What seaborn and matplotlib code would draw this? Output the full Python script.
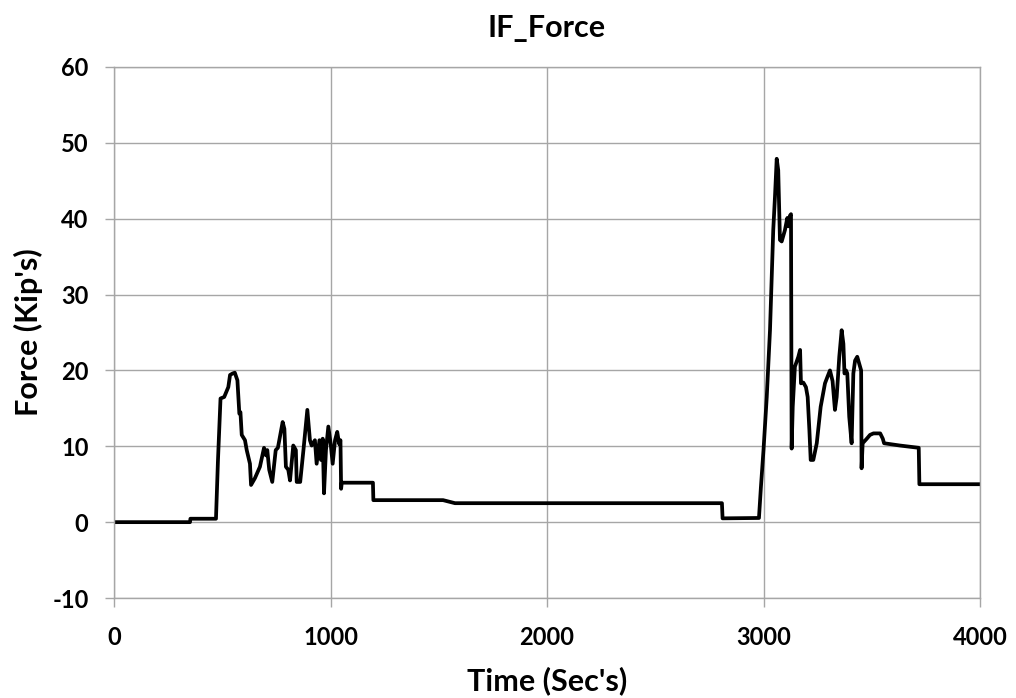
import matplotlib
matplotlib.use("Agg")
import matplotlib.pyplot as plt
import seaborn as sns
import pandas as pd

title = "IF_Force"
x_label = "Time (Sec's)"
y_label = "Force (Kip's)"
x_ticks = [0, 1000, 2000, 3000, 4000]
y_ticks = [-10, 0, 10, 20, 30, 40, 50, 60]

time_s = [0, 351, 353, 471, 480, 492, 509, 528, 536, 548, 558, 570, 579, 584, 590, 605,
          613, 628, 633, 651, 674, 693, 702, 708, 717, 731, 747, 757, 779, 787, 794, 805,
          813, 828, 840, 844, 860, 875, 893, 905, 913, 928, 936, 949, 956, 964, 970, 979,
          990, 1001, 1010, 1021, 1031, 1040, 1046, 1049, 1052, 1196, 1198, 1520, 1575,
          2808, 2811, 2979, 2988, 3000, 3015, 3030, 3045, 3053, 3061, 3068, 3076, 3084,
          3099, 3110, 3116, 3122, 3127, 3130, 3135, 3145, 3161, 3169, 3173, 3184, 3196,
          3204, 3212, 3218, 3230, 3246, 3264, 3284, 3296, 3307, 3319, 3330, 3338, 3350,
          3361, 3369, 3374, 3381, 3387, 3396, 3407, 3415, 3423, 3433, 3442, 3451, 3453,
          3458, 3477, 3492, 3508, 3539, 3551, 3557, 3630, 3717, 3720, 4000]
force_kips = [0.0, 0.0, 0.45, 0.45, 8.0, 16.3, 16.5, 17.8, 19.4, 19.6, 19.7, 18.7, 14.3,
              14.5, 11.5, 10.8, 9.5, 7.7, 4.9, 5.8, 7.3, 9.8, 8.8, 9.5, 6.9, 5.3, 9.5,
              9.8, 13.2, 12.3, 7.3, 6.9, 5.5, 10.1, 9.5, 5.3, 5.3, 9.5, 14.8, 10.8, 10.1,
              10.8, 7.7, 10.8, 8.2, 11.0, 3.8, 9.5, 12.6, 10.3, 7.7, 10.8, 11.9, 10.3,
              10.8, 4.4, 5.2, 5.2, 2.9, 2.9, 2.5, 2.5, 0.5, 0.55, 4.6, 9.5, 16.5, 25.3,
              38.5, 42.9, 47.9, 46.4, 37.2, 37.0, 38.5, 40.1, 39.0, 40.4, 40.6, 9.7, 15.2,
              20.5, 21.8, 22.7, 18.3, 18.4, 17.8, 16.5, 12.1, 8.2, 8.2, 10.4, 15.2, 18.3,
              19.2, 20.0, 18.6, 14.8, 16.5, 21.8, 25.3, 23.5, 19.6, 20.0, 19.6, 13.9, 10.4,
              19.6, 21.3, 21.8, 20.9, 20.0, 7.1, 10.4, 11.0, 11.5, 11.7, 11.7, 11.0, 10.4,
              10.1, 9.8, 5.0, 5.0]

df = pd.DataFrame({"time": time_s, "force": force_kips})

sns.set_theme(style="white")
plt.rcParams["font.family"] = ["Lato", "DejaVu Sans"]
plt.rcParams["font.weight"] = "bold"
plt.rcParams["text.color"] = "black"

W, H = 1016, 698
L, R, T, B = 114, 980, 67, 598
fig = plt.figure(figsize=(W / 100, H / 100), dpi=100)
ax = fig.add_axes([L / W, 1 - B / H, (R - L) / W, (B - T) / H])

sns.lineplot(data=df, x="time", y="force", ax=ax, sort=False, estimator=None,
             color="black", linewidth=2.7)

ax.set_xlim(0, 4000)
ax.set_ylim(-10, 60)
ax.set_xticks(x_ticks)
ax.set_yticks(y_ticks)
ax.set_yticklabels([str(v) for v in y_ticks])
ax.grid(True, color="#a6a6a6", linewidth=1.0)
for s in ax.spines.values():
    s.set_color("#a6a6a6")
    s.set_linewidth(1.0)
ax.tick_params(axis="both", which="both", length=6.3, width=1.0, color="#a6a6a6",
               direction="out", left=True, bottom=True, labelsize=17,
               labelcolor="black")
ax.tick_params(axis="y", pad=12)
ax.tick_params(axis="x", pad=14)
for lab in ax.get_xticklabels() + ax.get_yticklabels():
    lab.set_fontweight("bold")

ax.set_xlabel(x_label, fontsize=22, fontweight="bold", color="black")
ax.set_ylabel(y_label, fontsize=22, fontweight="bold", color="black")
ax.xaxis.set_label_coords(0.5, (B - 681) / (B - T))
ax.xaxis.label.set_va("center")
ax.yaxis.set_label_coords((28 - L) / (R - L), 0.5)
ax.yaxis.label.set_va("center")
ax.set_title(title, fontsize=22, fontweight="bold", color="black",
             y=(B - 28) / (B - T), va="center", pad=0)

fig.savefig("out.png", dpi=100)
